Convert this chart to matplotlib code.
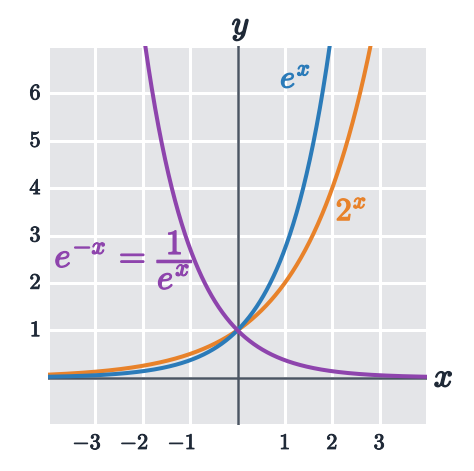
import numpy as np
import matplotlib
matplotlib.use("Agg")
import matplotlib.pyplot as plt
import matplotlib.patheffects as pe

plt.rcParams['mathtext.fontset'] = 'cm'
plt.rcParams['font.family'] = ['DejaVu Serif']

# data
x_min, x_max = -4, 4
y_min, y_max = -1, 7
x_ticks = [-3, -2, -1, 1, 2, 3]
y_ticks = [1, 2, 3, 4, 5, 6]
x = np.linspace(x_min, x_max, 800)
curves = [
    ("e^x", np.exp(x), "#2b7bb9"),
    ("2^x", np.power(2.0, x), "#e8822a"),
    ("e^-x", np.exp(-x), "#8e44ad"),
]

BG = "#e4e5e8"
AXC = "#4b5563"
TXT = "#1f2937"

def bold(c, w=0.9):
    return [pe.withStroke(linewidth=w, foreground=c)]

fig = plt.figure(figsize=(4.74, 4.71), dpi=100)
ax = fig.add_axes([48/474, 1-425/471, 379/474, 379/471])
ax.set_facecolor(BG)
ax.set_xlim(x_min, x_max)
ax.set_ylim(y_min, y_max)
for s in ax.spines.values():
    s.set_visible(False)
ax.set_xticks(range(x_min, x_max + 1))
ax.set_yticks(range(y_min, y_max + 1))
ax.tick_params(length=0, labelbottom=False, labelleft=False)
ax.grid(True, color="white", lw=2.2, zorder=0)
ax.set_axisbelow(True)

ax.axhline(0, color=AXC, lw=1.8, zorder=2)
ax.axvline(0, color=AXC, lw=1.8, zorder=2)

for i in [1, 0, 2]:
    name, yv, c = curves[i]
    ax.plot(x, yv, color=c, lw=2.9, zorder=3, solid_capstyle='butt')

# tick labels
for t in x_ticks:
    dx = -6 if t < 0 else 0
    lab = (r"$\mathbf{-%d}$" % (-t)) if t < 0 else (r"$\mathbf{%d}$" % t)
    ax.annotate(lab, xy=(t, y_min), xytext=(dx, -13), textcoords='offset points',
                ha='center', va='center', fontsize=16, color=TXT, annotation_clip=False,
                path_effects=bold(TXT, 0.6))
for t in y_ticks:
    ax.annotate(r"$\mathbf{%d}$" % t, xy=(x_min, t), xytext=(-9, 0), textcoords='offset points',
                ha='center', va='center', fontsize=16, color=TXT, annotation_clip=False,
                path_effects=bold(TXT, 0.6))

# axis names
ax.text(0.07, 7.4, r"$y$", ha='center', va='center',
        fontsize=24, color=TXT, clip_on=False, path_effects=bold(TXT, 1.0))
ax.text(4.35, 0.0, r"$x$", ha='center', va='center', fontsize=24, color=TXT,
        clip_on=False, path_effects=bold(TXT, 1.0))

# curve labels
ax.text(1.22, 6.3, r"$e^x$", ha='center', va='center', fontsize=23, color=curves[0][2],
        path_effects=bold(curves[0][2], 1.0))
ax.text(2.4, 3.5, r"$\mathbf{2}^x$", ha='center', va='center', fontsize=23, color=curves[1][2],
        path_effects=bold(curves[1][2], 1.0))
ax.text(-2.4, 2.5, r"$e^{-x}\,=\,\dfrac{\mathbf{1}}{e^x}$", ha='center', va='center',
        fontsize=25, color=curves[2][2], path_effects=bold(curves[2][2], 1.0))

fig.savefig("out.png", dpi=100, facecolor="white")
